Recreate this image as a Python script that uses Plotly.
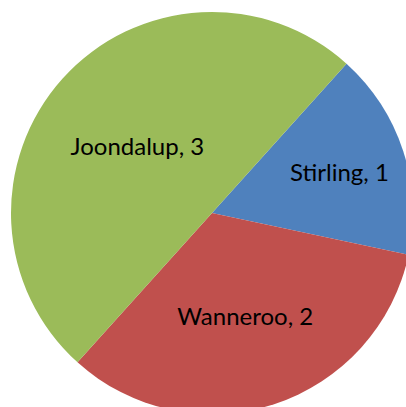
import plotly.graph_objects as go

labels = ["Stirling", "Wanneroo", "Joondalup"]
values = [1, 2, 3]
colors = ["#4F81BD", "#C0504D", "#9BBB59"]

W, H = 420, 420
cx, cy, r = 212, 213, 201

fig = go.Figure(go.Pie(
    labels=labels,
    values=values,
    sort=False,
    direction="clockwise",
    rotation=42,
    marker=dict(colors=colors, line=dict(width=0)),
    texttemplate="%{label}, %{value}",
    textposition="inside",
    insidetextorientation="horizontal",
    textfont=dict(family="Lato, Open Sans, sans-serif", size=24, color="black"),
    hoverinfo="label+value",
    domain=dict(x=[(cx - r) / W, (cx + r) / W], y=[1 - (cy + r) / H, 1 - (cy - r) / H]),
))
fig.update_layout(
    width=W, height=H,
    margin=dict(l=0, r=0, t=0, b=0),
    showlegend=False,
    paper_bgcolor="white",
)
fig.write_html(
    "out.html",
    config={"displayModeBar": False},
    post_script="document.body.style.margin='0';document.body.style.overflow='hidden';document.documentElement.style.overflow='hidden';",
)
